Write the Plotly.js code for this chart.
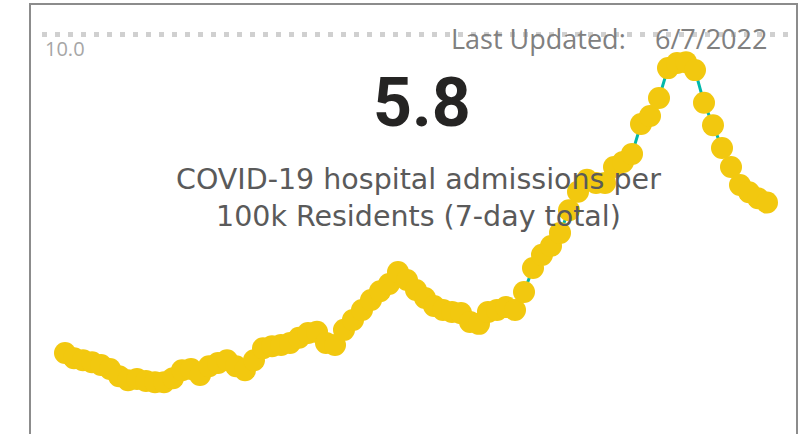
<!DOCTYPE html>
<html>
<head>
<meta charset="utf-8">
<script src="https://cdn.plot.ly/plotly-3.0.1.min.js"></script>
<style>
  html, body { margin: 0; padding: 0; background: #fff; overflow: hidden; }
  #frame {
    position: absolute; left: 29px; top: 3px; width: 765px; height: 480px;
    border: 2px solid #8c8c8c; box-sizing: content-box;
  }
  #chart { position: absolute; left: 0; top: 0; width: 802px; height: 434px; }
</style>
</head>
<body>
<div id="frame"></div>
<div id="chart"></div>
<script>
// 7-day hospital admissions per 100k, one value per day up to the last update
const firstDay = '2022-03-21';
const admissions = [
  2.03, 1.90, 1.85, 1.80, 1.73, 1.63, 1.45, 1.35, 1.38, 1.33,
  1.30, 1.30, 1.40, 1.60, 1.63, 1.48, 1.70, 1.78, 1.85, 1.70,
  1.60, 1.85, 2.15, 2.20, 2.23, 2.28, 2.41, 2.53, 2.56, 2.28,
  2.23, 2.61, 2.86, 3.11, 3.36, 3.58, 3.76, 4.06, 3.86, 3.61,
  3.41, 3.21, 3.11, 3.06, 3.03, 2.81, 2.76, 3.06, 3.11, 3.18,
  3.11, 3.56, 4.16, 4.49, 4.71, 5.04, 5.61, 6.07, 6.37, 6.29,
  6.29, 6.69, 6.82, 7.02, 7.77, 7.97, 8.42, 9.17, 9.30, 9.32,
  9.12, 8.30, 7.74, 7.17, 6.69, 6.24, 6.06, 5.91, 5.80
];
const yTicks = [10];
const yTickText = ['10.0'];
const lastUpdated = '6/7/2022';
const headline = '5.8';
const subtitleLines = ['COVID-19 hospital admissions per', '100k Residents (7-day total)'];

const DAY = 86400000;
const t0 = Date.parse(firstDay + 'T00:00:00Z');
const days = admissions.map((_, i) => new Date(t0 + i * DAY).toISOString().slice(0, 10));

const trace = {
  x: days,
  y: admissions,
  type: 'scatter',
  mode: 'lines+markers',
  line: { color: '#01B8AA', width: 3 },
  marker: { color: '#F2C80F', size: 22 },
  hoverinfo: 'x+y'
};

const layout = {
  width: 802,
  height: 434,
  margin: { l: 42, r: 12, t: 0, b: 0 },
  paper_bgcolor: 'rgba(0,0,0,0)',
  plot_bgcolor: 'rgba(0,0,0,0)',
  showlegend: false,
  xaxis: {
    type: 'date',
    range: [t0 - 2.556 * DAY, t0 + 80.556 * DAY],
    showgrid: false,
    zeroline: false,
    showticklabels: false,
    ticks: ''
  },
  yaxis: {
    range: [0, 10.877],
    tickvals: yTicks,
    ticktext: yTickText,
    ticklabelposition: 'inside bottom',
    tickfont: { family: 'Open Sans', size: 20, color: '#a6a6a6' },
    showgrid: true,
    gridcolor: '#d0d0d0',
    gridwidth: 5,
    griddash: '5px,8px',
    zeroline: false,
    ticks: ''
  },
  annotations: [
    {
      xref: 'paper', yref: 'paper', x: 0.544, y: 0.912,
      xanchor: 'left', yanchor: 'middle', showarrow: false,
      text: 'Last Updated:',
      font: { family: 'Open Sans', size: 27, color: '#808080' }
    },
    {
      xref: 'paper', yref: 'paper', x: 0.972, y: 0.912,
      xanchor: 'right', yanchor: 'middle', showarrow: false,
      text: lastUpdated,
      font: { family: 'Open Sans', size: 27, color: '#808080' }
    },
    {
      xref: 'paper', yref: 'paper', x: 0.508, y: 0.763,
      xanchor: 'center', yanchor: 'middle', showarrow: false,
      text: '<b>' + headline + '</b>',
      font: { family: 'Roboto', size: 68, color: '#252423' }
    },
    {
      xref: 'paper', yref: 'paper', x: 0.503, y: 0.544,
      xanchor: 'center', yanchor: 'middle', showarrow: false,
      text: subtitleLines.join('<br>'),
      font: { family: 'DejaVu Sans', size: 28.5, color: '#5a5a5a' }
    }
  ]
};

Plotly.newPlot('chart', [trace], layout, { displayModeBar: false, staticPlot: true });
</script>
</body>
</html>
